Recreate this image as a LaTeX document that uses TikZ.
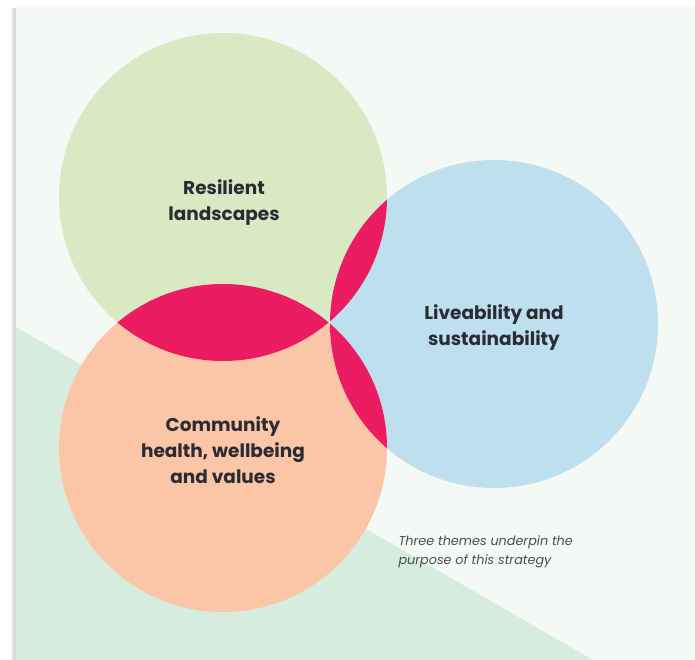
\documentclass[tikz,border=0pt]{standalone}
\usepackage{fontspec}
\setmainfont{Poppins}
\usepackage{tikz}
\usetikzlibrary{positioning}
\definecolor{panel}{HTML}{F5F9F6}
\definecolor{mint}{HTML}{D6ECDF}
\definecolor{leaf}{HTML}{D8E9C3}
\definecolor{sky}{HTML}{BEDFEE}
\definecolor{peach}{HTML}{FBC6A8}
\definecolor{overlap}{HTML}{EC1C62}
\definecolor{ink}{HTML}{2B2B33}
\tikzstyle{theme} = [align=center,text=ink,font=\fontsize{18.5}{26}\selectfont\bfseries]
\tikzstyle{note} = [align=left,text=ink!85,font=\fontsize{12.8}{19}\selectfont\itshape]

\begin{document}
\begin{tikzpicture}[x=1pt,y=-1pt]
	\useasboundingbox (0,0) rectangle (695,660);
	\fill[white] (0,0) rectangle (695,660);
	% panel with a soft shadow on its left edge
	\fill[black!14] (13,8) rectangle (16,660);
	\fill[black!6] (11,8) rectangle (13,660);
	\fill[panel] (16,6) rectangle (695,660);
	\fill[mint] (16,327) -- (593,660) -- (16,660) -- cycle;
	% the three themes
	\coordinate (cLand) at (223,197);
	\coordinate (cLive) at (494,324);
	\coordinate (cComm) at (223,448);
	\fill[leaf] (cLand) circle [radius=164pt];
	\fill[sky] (cLive) circle [radius=164pt];
	\fill[peach] (cComm) circle [radius=164pt];
	% overlaps
	\begin{scope}
		\clip (cLand) circle [radius=164pt];
		\fill[overlap] (cComm) circle [radius=164pt];
		\fill[overlap] (cLive) circle [radius=164pt];
	\end{scope}
	\begin{scope}
		\clip (cComm) circle [radius=164pt];
		\fill[overlap] (cLive) circle [radius=164pt];
	\end{scope}
	\node[theme] (land) at (224,202.5) {Resilient\\landscapes};
	\node[theme] (live) at (494,327.5) {Liveability and\\sustainability};
	\node[theme] (comm) at (223,450) {Community\\health, wellbeing\\and values};
	\node[note,anchor=north west] (caption) at (395,532) {Three themes underpin the\\purpose of this strategy};
\end{tikzpicture}
\end{document}
